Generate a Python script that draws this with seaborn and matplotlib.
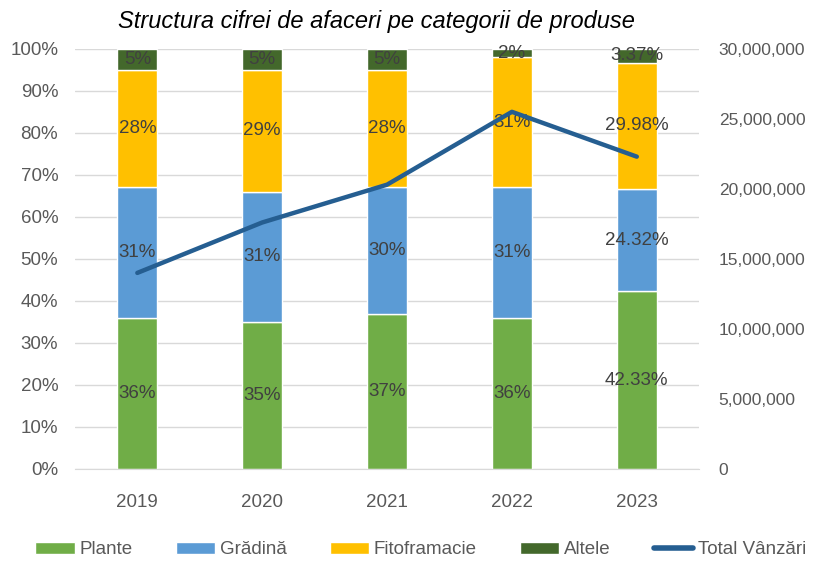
import numpy as np
import pandas as pd
import matplotlib
matplotlib.use("Agg")
import matplotlib.pyplot as plt
import matplotlib.ticker as mticker
from matplotlib.patches import Patch
from matplotlib.lines import Line2D
import seaborn as sns

# date
ani = ["2019", "2020", "2021", "2022", "2023"]
plante = [36, 35, 37, 36, 42.33]
gradina = [31, 31, 30, 31, 24.32]
fitofarmacie = [28, 29, 28, 31, 29.98]
altele = [5, 5, 5, 2, 3.37]
total_vanzari = [14000000, 17600000, 20300000, 25500000, 22300000]

serii = ["Plante", "Grădină", "Fitoframacie", "Altele"]
culori = ["#70ad47", "#5b9bd5", "#ffc000", "#43682b"]
culoare_linie = "#255e91"


def fmt_procent(v):
    if float(v).is_integer():
        return f"{int(v)}%"
    return f"{v:.2f}%"


def main():
    sns.set_style("white")
    plt.rcParams["font.family"] = ["Liberation Sans", "DejaVu Sans"]

    fig = plt.figure(figsize=(8.14, 5.61), dpi=100)
    ax = fig.add_axes([0.092, 0.164, 0.767, 0.749])

    df = pd.DataFrame({"an": ani, "Plante": plante, "Grădină": gradina,
                       "Fitoframacie": fitofarmacie, "Altele": altele})
    baza = np.zeros(len(ani))
    for serie, culoare in zip(serii, culori):
        sns.barplot(data=df, x="an", y=serie, color=culoare, width=0.32,
                    bottom=baza, ax=ax, saturation=1, zorder=2)
        cont = ax.containers[-1]
        ax.bar_label(cont, labels=[fmt_procent(v) for v in df[serie]],
                     label_type="center", color="#404040", fontsize=13.5)
        baza = baza + df[serie].to_numpy()

    ax.set_ylim(0, 100)
    ax.set_xlim(-0.5, len(ani) - 0.5)
    ax.set_yticks(np.arange(0, 101, 10))
    ax.yaxis.set_major_formatter(mticker.FuncFormatter(lambda v, p: f"{int(v)}%"))
    ax.grid(axis="y", color="#d9d9d9", linewidth=1, zorder=0)
    ax.set_axisbelow(True)
    ax.set_xlabel("")
    ax.set_ylabel("")
    for s in ["top", "left", "right"]:
        ax.spines[s].set_visible(False)
    ax.spines["bottom"].set_color("#d9d9d9")
    ax.tick_params(axis="y", length=0, labelsize=13.5, colors="#595959", pad=12)
    ax.tick_params(axis="x", length=0, labelsize=13.5, colors="#595959", pad=18)

    ax2 = ax.twinx()
    sns.lineplot(x=np.arange(len(ani)), y=total_vanzari, color=culoare_linie,
                 linewidth=3.2, ax=ax2, solid_capstyle="round")
    ax2.set_ylim(0, 30000000)
    ax2.set_yticks(np.arange(0, 30000001, 5000000))
    ax2.yaxis.set_major_formatter(mticker.FuncFormatter(lambda v, p: f"{int(v):,}"))
    for s in ["top", "left", "right", "bottom"]:
        ax2.spines[s].set_visible(False)
    ax2.tick_params(axis="y", length=0, labelsize=12.5, colors="#595959", pad=14)
    ax2.set_ylabel("")

    fig.text(0.462, 0.962, "Structura cifrei de afaceri pe categorii de produse",
             ha="center", va="center", fontsize=17, style="italic",
             color="#000000")

    handles = [Patch(facecolor=c, label=s) for s, c in zip(serii, culori)]
    handles.append(Line2D([0], [0], color=culoare_linie, linewidth=4,
                          solid_capstyle="round", label="Total Vânzări"))
    fig.legend(handles=handles, loc="center", bbox_to_anchor=(0.517, 0.02),
               ncol=5, frameon=False, fontsize=13.5, handlelength=2.1,
               handleheight=0.6, handletextpad=0.25, columnspacing=2.3,
               labelcolor="#595959")

    fig.savefig("out.png", dpi=100)
    plt.close(fig)


if __name__ == "__main__":
    main()
